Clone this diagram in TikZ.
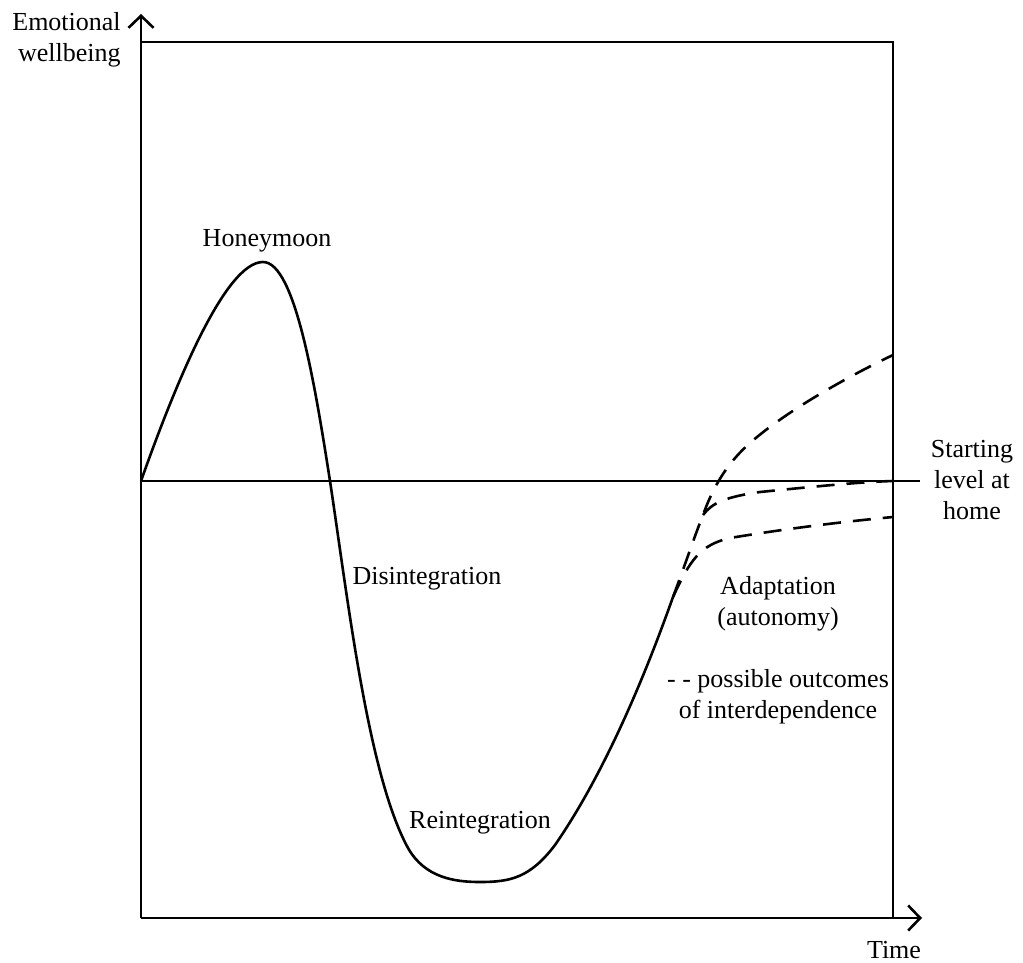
\documentclass[tikz,border=0pt]{standalone}
\usepackage{fontspec}
\setmainfont{Liberation Serif}
\usetikzlibrary{arrows.meta, positioning}

\begin{document}
\begin{tikzpicture}[>={Straight Barb[length=12pt,width=25pt]}, x=1pt, y=-1pt, line width=2.6pt,
    font=\fontsize{26}{31}\selectfont,
    lbl/.style={align=center, inner sep=0pt},
    outcome/.style={dash pattern=on 18pt off 12pt}]
    \useasboundingbox (0,0) rectangle (1023,963);

    % Axes and frame
    \coordinate (O) at (141,918);
    \coordinate (ytop) at (141,14);
    \coordinate (xend) at (922,918);
    \draw[->] (O) -- (xend);
    \draw[->] (O) -- (ytop);
    \draw (141,42) -- (893,42) -- (893,918);

    % Starting level at home
    \coordinate (s0) at (141,481);
    \draw (s0) -- (920,481);

    % Labels
    \node[lbl, align=right, anchor=east] (ylab) at (122,40) {Emotional\\wellbeing};
    \node[lbl] (xlab) at (894,950) {Time};
    \node[lbl] (start) at (972,480) {Starting\\level at\\home};
    \node[lbl] (honey) at (267,241) {Honeymoon};
    \node[lbl] (disint) at (427,579) {Disintegration};
    \node[lbl] (reint) at (480,823) {Reintegration};
    \node[lbl] (adapt) at (778,604) {Adaptation\\(autonomy)};
    \node[lbl] (poss) at (778,697) {- - possible outcomes\\of interdependence};

    % Adjustment curve
    \coordinate (peak) at (263,262);
    \coordinate (x1) at (330,481);
    \coordinate (trough) at (480,882);
    \coordinate (split) at (673,597);
    \draw (s0) .. controls (175,385) and (225,262) .. (peak)
        .. controls (295,262) and (315,385) .. (x1)
        .. controls (348,600) and (368,775) .. (408,848)
        .. controls (425,878) and (455,882) .. (trough)
        .. controls (510,882) and (530,878) .. (555,845)
        .. controls (600,780) and (640,690) .. (split);

    % Possible outcomes
    \coordinate (fork) at (703,515);
    \draw[outcome] (split) .. controls (690,560) and (700,545) .. (730,538)
        .. controls (790,528) and (850,521) .. (893,517);
    \draw[outcome] (split) .. controls (685,565) and (695,535) .. (fork)
        .. controls (712,490) and (725,465) .. (750,443)
        .. controls (785,412) and (845,378) .. (893,355);
    \draw[outcome] (fork) .. controls (712,503) and (725,497) .. (760,492)
        .. controls (820,486) and (860,482) .. (893,481);
\end{tikzpicture}
\end{document}
